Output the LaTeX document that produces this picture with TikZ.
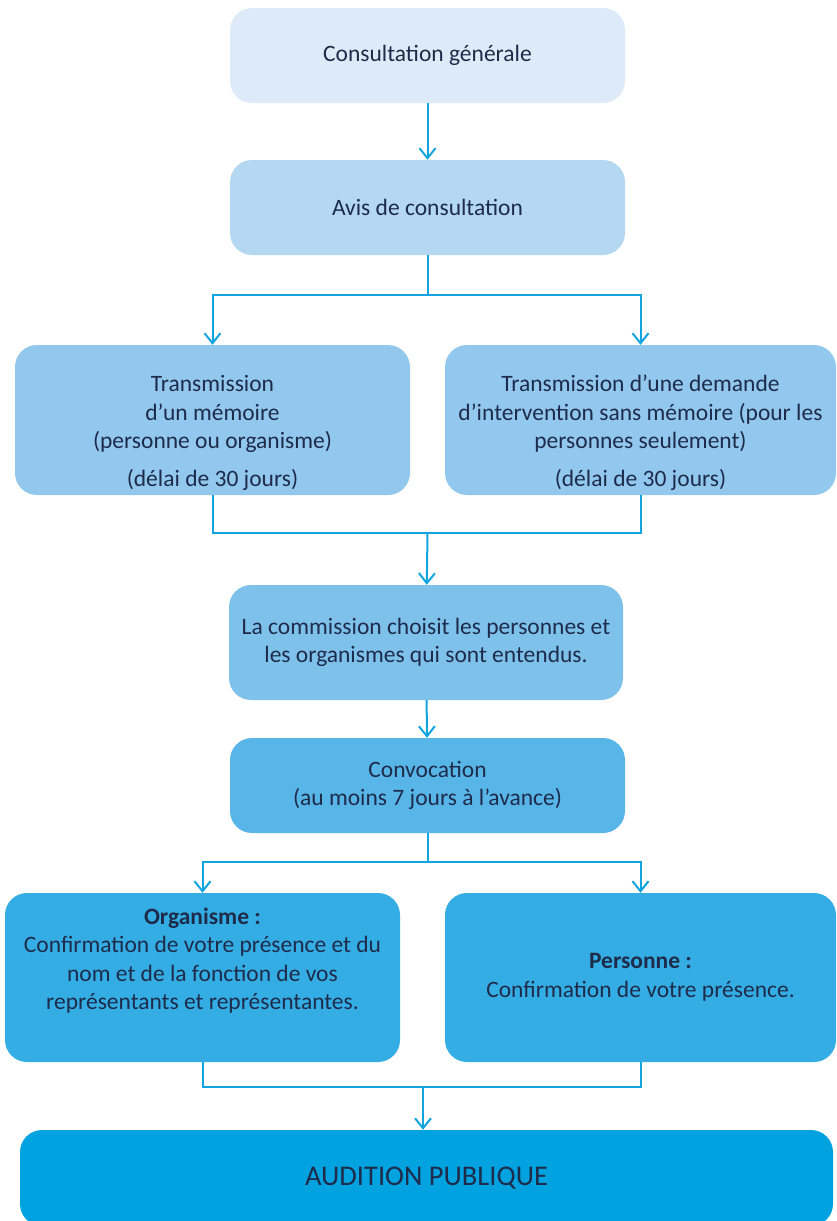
\documentclass[tikz,border=0pt]{standalone}
\usepackage{fontspec}
\setmainfont{Carlito}
\usepackage{tikz}
\usetikzlibrary{arrows.meta}
\definecolor{auditext}{RGB}{30,43,74}
\definecolor{audiline}{RGB}{18,164,224}
\definecolor{audiblue1}{RGB}{221,235,248}
\definecolor{audiblue2}{RGB}{180,216,242}
\definecolor{audiblue3}{RGB}{146,200,238}
\definecolor{audiblue4}{RGB}{126,194,235}
\definecolor{audiblue5}{RGB}{87,182,231}
\definecolor{audiblue6}{RGB}{51,173,227}
\definecolor{audiblue7}{RGB}{0,163,224}

\begin{document}
\begin{tikzpicture}[x=1pt, y=-1pt,
    etape/.style={rounded corners=22pt, align=center, text=auditext, inner sep=4pt,
        font=\fontsize{23.5}{28.5}\selectfont},
    ligne/.style={draw=audiline, line width=2pt},
    fleche/.style={ligne, -{Straight Barb[length=10pt, width=16pt]}}]
    \useasboundingbox (0,0) rectangle (836,1221);

    \node[etape, fill=audiblue1, minimum width=395pt, minimum height=95pt] (generale) at (427.5,55.5) {Consultation générale};
    
    \node[etape, fill=audiblue2, minimum width=395pt, minimum height=95pt] (avis) at (427.5,207.5) {Avis de consultation};
    
    \node[etape, fill=audiblue3, minimum width=395pt, minimum height=150pt] (memoire) at (212.5,420) {
        \strut\\[-6pt]
        Transmission\\
        d’un mémoire\\
        (personne ou organisme)\\[9pt]
        (délai de 30 jours)
    };
    
    \node[etape, fill=audiblue3, minimum width=391pt, minimum height=150pt] (demande) at (640.5,420) {
        \strut\\[-6pt]
        Transmission d’une demande\\
        d’intervention sans mémoire (pour les\\
        personnes seulement)\\[9pt]
        (délai de 30 jours)
    };
    
    \node[etape, fill=audiblue4, minimum width=394pt, minimum height=115pt] (choix) at (426,642.5) {
        La commission choisit les personnes et\\
        les organismes qui sont entendus.
    };
    
    \node[etape, fill=audiblue5, minimum width=395pt, minimum height=95pt] (convocation) at (427.5,785.5) {
        Convocation\\
        (au moins 7 jours à l’avance)
    };
    
    \node[etape, fill=audiblue6, minimum width=395pt, minimum height=169pt] (organisme) at (202.5,977.5) {
        \textbf{Organisme :}\\
        Confirmation de votre présence et du\\
        nom et de la fonction de vos\\
        représentants et représentantes.\\
        \strut
    };
    
    \node[etape, fill=audiblue6, minimum width=391pt, minimum height=169pt] (personne) at (640.5,977.5) {
        \textbf{Personne :}\\
        Confirmation de votre présence.
    };
    
    \node[etape, fill=audiblue7, minimum width=813pt, minimum height=96pt, font=\fontsize{28.5}{34}\selectfont] (audition) at (426.5,1178) {AUDITION PUBLIQUE};

    % liaisons
    \coordinate (split1) at (427.5,295);
    \coordinate (merge1) at (427.5,533);
    \coordinate (split2) at (427.5,862);
    \coordinate (merge2) at (423,1087);

    \draw[fleche] (generale) -- (avis);
    \draw[ligne] (avis) -- (split1);
    \draw[fleche] (split1) -| (memoire);
    \draw[fleche] (split1) -| (demande);
    \draw[ligne] (memoire) |- (merge1) -| (demande);
    \draw[fleche] (merge1) -- (choix);
    \draw[fleche] (choix) -- (convocation);
    \draw[ligne] (convocation) -- (split2);
    \draw[fleche] (split2) -| (organisme);
    \draw[fleche] (split2) -| (personne);
    \draw[ligne] (organisme) |- (merge2) -| (personne);
    \draw[fleche] (merge2) -- (merge2 |- audition.north);
\end{tikzpicture}
\end{document}
